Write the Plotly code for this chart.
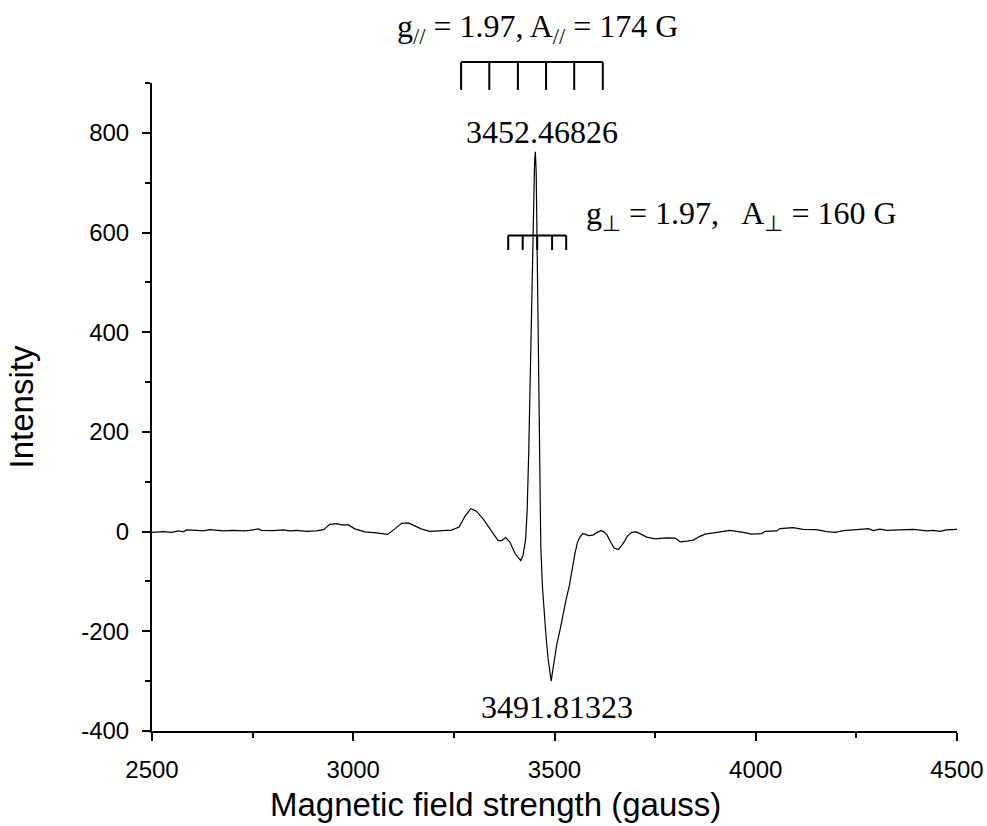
import plotly.graph_objects as go

# EPR spectrum: magnetic field (G) vs. signal intensity
PEAK_FIELD = 3452.46826
TROUGH_FIELD = 3491.81323

field = [2500, 2528, 2549, 2565, 2578, 2586, 2611, 2627, 2644, 2677, 2702, 2727,
         2743, 2764, 2772, 2801, 2826, 2843, 2859, 2884, 2909, 2926, 2942, 2959,
         2971, 2988, 3004, 3029, 3058, 3085, 3104, 3120, 3137, 3153, 3170, 3190,
         3224, 3244, 3263, 3277, 3292, 3306, 3323, 3344, 3360, 3369, 3379, 3389,
         3402, 3416, 3422, 3428, 3432, 3436, 3440, 3444, 3448, 3450.5, PEAK_FIELD,
         3454.5, 3457, 3460, 3463, 3466, 3470, 3474, 3478, 3484, 3488, TROUGH_FIELD,
         3495, 3500, 3506, 3513, 3520, 3529, 3537, 3545, 3551, 3557, 3563, 3570,
         3576, 3584, 3596, 3605, 3615, 3622, 3630, 3640, 3648, 3659, 3671, 3682,
         3692, 3704, 3716, 3729, 3750, 3779, 3800, 3812, 3830, 3845, 3860, 3874,
         3903, 3936, 3969, 3990, 4015, 4023, 4052, 4060, 4093, 4118, 4151, 4176,
         4197, 4218, 4251, 4280, 4292, 4309, 4325, 4375, 4392, 4425, 4441, 4458,
         4474, 4500]

intensity = [-1.5, 0, -1.5, 1.5, -0.5, 3.5, 2.5, 1.5, 4, 1.5, 2.5, 1.5,
             2.5, 5.5, 2.5, 2, 3.5, 1.5, 2.5, 0.5, 1.5, 4, 14.5, 16,
             13.5, 13.5, 5.5, -0.5, -2.5, -5.5, 6, 16.5, 17.5, 11.5, 5, 0.5,
             1.5, 3, 9, 30, 46, 41, 25, 1, -18, -18, -12, -21,
             -44, -58, -47, -17, 40, 160, 330, 510, 670, 740, 762,
             720, 560, 340, 120, -30, -110, -160, -200, -255, -285, -300,
             -282, -252, -225, -200, -170, -136, -108, -70, -43, -22, -11, -4,
             -5, -8, -7, -2, 2, 0, -6, -22, -33, -36, -23, -8,
             -1.5, -0.5, -6, -11, -14.5, -12.5, -13, -20.5, -19, -17, -10, -5,
             -1.5, 2.5, -1.5, -5, -4, 0.5, 1.5, 6, 8, 4.5, 4, 0,
             -1.5, 2, 4, 6, 2, 5, 2.5, 3.5, 4.5, 1.5, 2.5, 0.5,
             3.5, 4.5]

PEAK_INTENSITY = intensity[field.index(PEAK_FIELD)]
TROUGH_INTENSITY = intensity[field.index(TROUGH_FIELD)]

# axis ticks
x_ticks = [2500, 3000, 3500, 4000, 4500]
y_ticks = [-400, -200, 0, 200, 400, 600, 800]
y_minor = [-300, -100, 100, 300, 500, 700, 900]
y_labels = [str(v) for v in y_ticks]

# hyperfine stick diagrams (field positions of the lines, bracket heights)
par_lines = [3268, 3338, 3409, 3479, 3549, 3620]
par_top, par_bottom = 942, 886
perp_lines = [3385, 3421, 3457, 3494, 3529]
perp_top, perp_bottom = 594, 565

X_RANGE = [2500, 4500]
Y_RANGE = [-400, 900]

SERIF = "Liberation Serif, Times New Roman, serif"
SANS = "Liberation Sans, Arial, sans-serif"


def px(b):
    return (b - X_RANGE[0]) / (X_RANGE[1] - X_RANGE[0])


def py(v):
    return (v - Y_RANGE[0]) / (Y_RANGE[1] - Y_RANGE[0])


fig = go.Figure()
fig.add_trace(go.Scatter(x=field, y=intensity, mode="lines",
                         line=dict(color="black", width=1.2),
                         showlegend=False, hoverinfo="x+y"))

shapes = []
for lines, top, bottom in [(par_lines, par_top, par_bottom),
                           (perp_lines, perp_top, perp_bottom)]:
    shapes.append(dict(type="line", xref="paper", yref="paper",
                       x0=px(lines[0]), x1=px(lines[-1]), y0=py(top), y1=py(top),
                       line=dict(color="black", width=2)))
    for b in lines:
        shapes.append(dict(type="line", xref="paper", yref="paper",
                           x0=px(b), x1=px(b), y0=py(top), y1=py(bottom),
                           line=dict(color="black", width=2)))

serif_font = dict(family=SERIF, size=32, color="black")


def label(b, v, text, font, xanchor="center"):
    return dict(x=px(b), y=py(v), xref="paper", yref="paper", showarrow=False,
                xanchor=xanchor, yanchor="middle", text=text, font=font)


annotations = [
    label(3459, 1010, "g<sub>//</sub> = 1.97, A<sub>//</sub> = 174 G", serif_font),
    label(3469, PEAK_INTENSITY + 40, f"{PEAK_FIELD:.5f}", serif_font),
    label(3505, TROUGH_INTENSITY - 52, f"{TROUGH_FIELD:.5f}", serif_font),
    label(3574, 634,
          "g<sub>\u22a5</sub> = 1.97,\u00a0\u00a0 A<sub>\u22a5</sub> = 160 G",
          serif_font, xanchor="left"),
    # x-axis title
    label(3354, -548, "Magnetic field strength (gauss)",
          dict(family=SANS, size=33, color="black")),
]

axis_common = dict(showline=True, linecolor="black", linewidth=2,
                   ticks="outside", ticklen=8, tickwidth=2, tickcolor="black",
                   ticklabelstandoff=8, automargin=False,
                   showgrid=False, zeroline=False,
                   tickfont=dict(family=SANS, size=24, color="black"))

fig.update_layout(
    width=987, height=826,
    margin=dict(l=152, r=30, t=83, b=95),
    paper_bgcolor="white", plot_bgcolor="white",
    xaxis=dict(range=X_RANGE, tickvals=x_ticks,
               minor=dict(dtick=250, ticks="outside", ticklen=5, tickwidth=2,
                          tickcolor="black"),
               **axis_common),
    yaxis=dict(range=Y_RANGE, tickvals=y_ticks, ticktext=y_labels,
               minor=dict(tickvals=y_minor, ticks="outside", ticklen=5,
                          tickwidth=2, tickcolor="black"),
               title=dict(text="Intensity", standoff=38,
                          font=dict(family=SANS, size=33, color="black")),
               **axis_common),
    shapes=shapes,
    annotations=annotations,
)

fig.write_html("out.html")
